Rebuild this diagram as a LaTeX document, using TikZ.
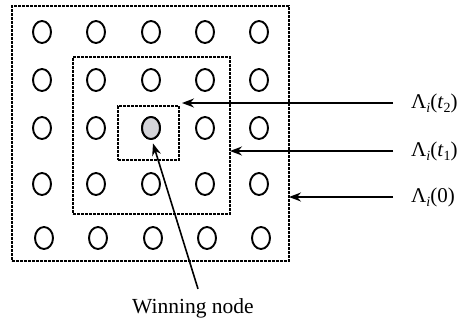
\documentclass[tikz,border=0pt]{standalone}
\usepackage{fontspec}
\setmainfont{Liberation Serif}
\usetikzlibrary{shapes.geometric,arrows.meta}
\definecolor{winfill}{RGB}{212,212,217}
% lowered index for the neighbourhood labels
\newcommand{\lowidx}[1]{\raisebox{-4.5pt}{\fontsize{14}{14}\selectfont #1}}

\begin{document}
\begin{tikzpicture}[x=1pt,y=-1pt,
  site/.style={ellipse,draw,line width=1.9pt,minimum width=18pt,minimum height=22pt,inner sep=0pt},
  region/.style={draw,line width=2.8pt,dash pattern=on 2.8pt off 1.2pt,inner sep=0pt,outer sep=0pt},
  pointer/.style={-{Stealth[length=12pt,width=9pt]},line width=1.6pt},
  lab/.style={font=\fontsize{21}{25}\selectfont,inner sep=0pt,anchor=west}]
\useasboundingbox (0,0) rectangle (461,324);

% lattice of map units
\foreach \r/\y in {1/32,2/80,3/128,4/184} {
  \foreach \c/\x in {1/42,2/96,3/151,4/205,5/259} {
    \node[site] (n\r\c) at (\x,\y) {};
  }
}
\foreach \c/\x in {1/44,2/98,3/153,4/207,5/261} {
  \node[site] (n5\c) at (\x,238) {};
}
% winning unit
\node[site,fill=winfill] (win) at (151,128) {};

% shrinking neighbourhoods
\node[region,minimum width=277pt,minimum height=255pt] (outer) at (150.5,133.5) {};
\node[region,minimum width=157pt,minimum height=157pt] (middle) at (151.5,135.5) {};
\node[region,minimum width=61pt,minimum height=54pt] (inner) at (148.5,133) {};

% labels
\node[lab] (l2) at (411,103) {Λ\lowidx{\itshape i}(\textit{t}\lowidx{2})};
\node[lab] (l1) at (411,151) {Λ\lowidx{\itshape i}(\textit{t}\lowidx{1})};
\node[lab] (l0) at (411,197) {Λ\lowidx{\itshape i}(0)};
\node[font=\fontsize{21.5}{25}\selectfont,inner sep=0pt,anchor=base] (wlab) at (193,313) {Winning node};

% pointers
\draw[pointer] ([xshift=-18pt]l2.west) -- ([xshift=3pt]inner.east |- l2.west);
\draw[pointer] ([xshift=-18pt]l1.west) -- (middle.east |- l1.west);
\draw[pointer] ([xshift=-18pt]l0.west) -- (outer.east |- l0.west);
\draw[pointer] ([xshift=5pt,yshift=9pt]wlab.north) -- ([xshift=2pt,yshift=-3.5pt]win.south);
\end{tikzpicture}
\end{document}
